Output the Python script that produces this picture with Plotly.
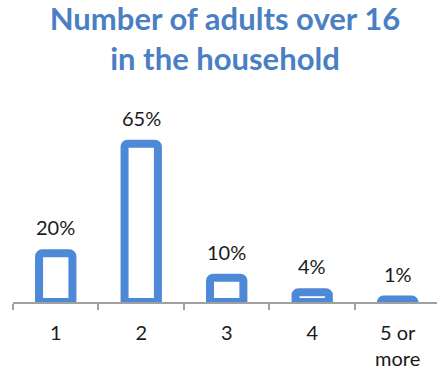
import plotly.graph_objects as go

categories = ["1", "2", "3", "4", "5 or<br>more"]
shares = [20, 65, 10, 4, 1]

BLUE = "#4d89d6"
TITLE_BLUE = "#4a7fc3"
AXIS_GREY = "#a0a0a0"
TEXT = "#1a1a1a"

fig = go.Figure(
    go.Bar(
        x=categories,
        y=shares,
        marker=dict(color="white", line=dict(color=BLUE, width=8), cornerradius=3),
        width=0.39,
        hoverinfo="x+y",
    )
)

# percentage labels sitting above each bar (x given as category index)
for idx, val in enumerate(shares):
    fig.add_annotation(
        x=idx,
        y=val,
        text=f"{val}%",
        showarrow=False,
        yanchor="bottom",
        yshift=12,
        font=dict(family="Lato", size=20, color=TEXT),
    )

fig.update_layout(
    width=437,
    height=374,
    margin=dict(l=13, r=0, t=100, b=72),
    paper_bgcolor="white",
    plot_bgcolor="white",
    showlegend=False,
    title=dict(
        text="Number of adults over 16<br>in the household",
        x=0.5,
        xref="paper",
        xanchor="center",
        y=1 - 30 / 374,
        yref="container",
        yanchor="middle",
        font=dict(family="Lato", size=31, color=TITLE_BLUE, weight="bold"),
    ),
    xaxis=dict(
        range=[-0.5, 4.46],
        showline=True,
        linecolor=AXIS_GREY,
        linewidth=2,
        ticks="outside",
        tickson="boundaries",
        ticklen=6,
        tickwidth=2,
        tickcolor=AXIS_GREY,
        ticklabelstandoff=12,
        tickfont=dict(family="Lato", size=20, color=TEXT),
        showgrid=False,
        zeroline=False,
        fixedrange=True,
    ),
    yaxis=dict(
        range=[0, 83],
        visible=False,
        showgrid=False,
        zeroline=False,
        fixedrange=True,
    ),
)

fig.write_html("out.html")
